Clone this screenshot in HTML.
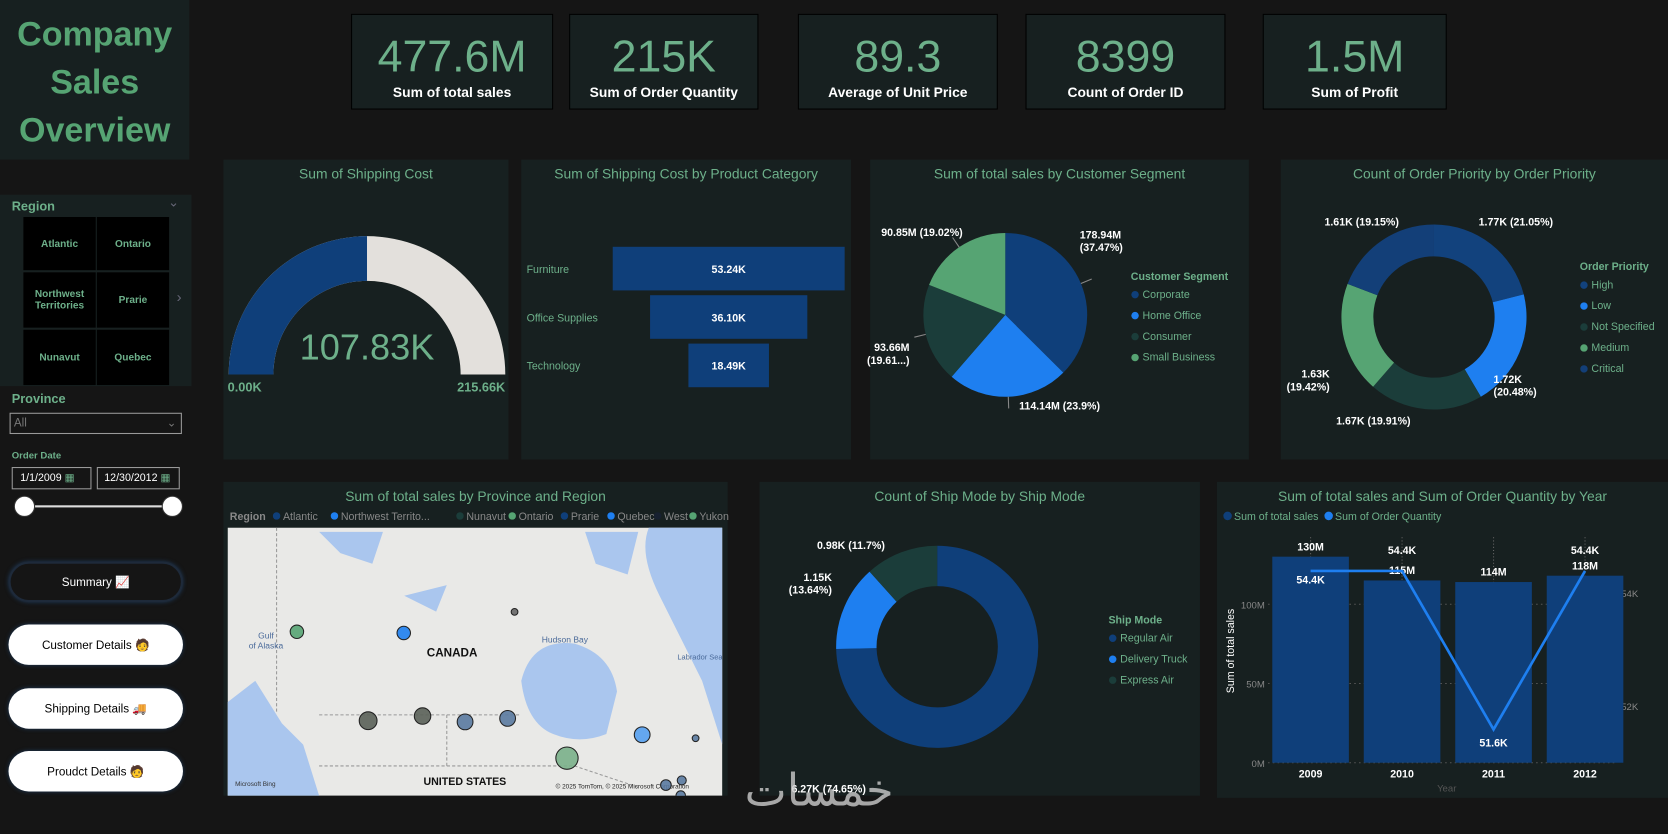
<!DOCTYPE html>
<html><head><meta charset="utf-8">
<style>
html,body{margin:0;width:1668px;height:834px;background:#151515;overflow:hidden}
#wrap{position:absolute;left:0;top:0;width:1568px;height:784px;transform:scale(1.06378);transform-origin:0 0;font-family:"Liberation Sans",sans-serif;background:#151515}
.a{position:absolute}
.panel{position:absolute;background:#172020}
.kpi{position:absolute;background:#172020;border:1px solid #000;text-align:center}
.kpi .v{color:#6db08a;font-size:42px;margin-top:16px;line-height:46px}
.kpi .l{color:#fff;font-weight:bold;font-size:13px;margin-top:3px}
.ttl{position:absolute;color:#6db08a;font-size:13px;text-align:center;width:100%;top:6px}
.tile{position:absolute;background:#000;color:#6db08a;font-weight:bold;font-size:9.5px;display:flex;align-items:center;justify-content:center;text-align:center}
.btn{position:absolute;left:8px;width:164px;height:38px;border-radius:19px;background:#fff;color:#000;font-size:11px;display:flex;align-items:center;justify-content:center;box-shadow:0 0 4px #1e3a5a}
svg text{font-family:"Liberation Sans",sans-serif}
</style></head><body>
<div id="wrap">
<div class="panel" style="left:0;top:0;width:178px;height:150px">
<div class="a" style="width:178px;top:10px;text-align:center;color:#56a473;font-weight:bold;font-size:32px;line-height:45px">Company<br>Sales<br>Overview</div></div>

<div class="kpi" style="left:330px;top:13px;width:188px;height:88px"><div class="v">477.6M</div><div class="l">Sum of total sales</div></div>
<div class="kpi" style="left:535px;top:13px;width:176px;height:88px"><div class="v">215K</div><div class="l">Sum of Order Quantity</div></div>
<div class="kpi" style="left:750px;top:13px;width:186px;height:88px"><div class="v">89.3</div><div class="l">Average of Unit Price</div></div>
<div class="kpi" style="left:964px;top:13px;width:186px;height:88px"><div class="v">8399</div><div class="l">Count of Order ID</div></div>
<div class="kpi" style="left:1187px;top:13px;width:171px;height:88px"><div class="v">1.5M</div><div class="l">Sum of Profit</div></div>

<div class="panel" style="left:0;top:183px;width:180px;height:180px">
<div class="a" style="left:11px;top:4px;color:#6db08a;font-weight:bold;font-size:12px">Region</div>
<div class="a" style="left:158px;top:0px;color:#667;font-size:12px">⌄</div>
<div class="a" style="left:166px;top:88px;color:#667;font-size:14px">›</div>
</div>
<div class="tile" style="left:22px;top:204px;width:68px;height:50px">Atlantic</div>
<div class="tile" style="left:91px;top:204px;width:68px;height:50px">Ontario</div>
<div class="tile" style="left:22px;top:256px;width:68px;height:52px">Northwest<br>Territories</div>
<div class="tile" style="left:91px;top:256px;width:68px;height:52px">Prarie</div>
<div class="tile" style="left:22px;top:310px;width:68px;height:52px">Nunavut</div>
<div class="tile" style="left:91px;top:310px;width:68px;height:52px">Quebec</div>
<div class="a" style="left:11px;top:368px;color:#6db08a;font-weight:bold;font-size:12px">Province</div>
<div class="a" style="left:9px;top:388px;width:162px;height:20px;border:1px solid #999;color:#777;font-size:11px;line-height:19px;padding-left:3px;box-sizing:border-box">All<span style="float:right;margin-right:4px">⌄</span></div>
<div class="a" style="left:11px;top:423px;color:#6db08a;font-weight:bold;font-size:9px">Order Date</div>
<div class="a" style="left:11px;top:439px;width:75px;height:21px;border:1px solid #999;box-sizing:border-box;color:#fff;font-size:10px;line-height:19px;padding-left:7px">1/1/2009 <span style="color:#6db08a">▦</span></div>
<div class="a" style="left:91px;top:439px;width:78px;height:21px;border:1px solid #999;box-sizing:border-box;color:#fff;font-size:10px;line-height:19px;padding-left:6px">12/30/2012 <span style="color:#6db08a">▦</span></div>
<div class="a" style="left:22px;top:475px;width:140px;height:2px;background:#ddd"></div>
<div class="a" style="left:13px;top:466px;width:18px;height:18px;border-radius:50%;background:#fff;border:1px solid #333"></div>
<div class="a" style="left:152px;top:466px;width:18px;height:18px;border-radius:50%;background:#fff;border:1px solid #333"></div>
<div class="btn" style="top:528px;background:#151515;color:#fff;border:2px solid #1e2a3a;box-sizing:border-box">Summary 📈</div>
<div class="btn" style="top:587px">Customer Details 🧑</div>
<div class="btn" style="top:647px">Shipping Details 🚚</div>
<div class="btn" style="top:706px">Proudct Details 🧑</div>

<div class="panel" style="left:210px;top:150px;width:268px;height:282px"><div class="ttl">Sum of Shipping Cost</div></div>
<div class="panel" style="left:490px;top:150px;width:310px;height:282px"><div class="ttl">Sum of Shipping Cost by Product Category</div></div>
<div class="panel" style="left:818px;top:150px;width:356px;height:282px"><div class="ttl">Sum of total sales by Customer Segment</div></div>
<div class="panel" style="left:1204px;top:150px;width:364px;height:282px"><div class="ttl">Count of Order Priority by Order Priority</div></div>
<div class="panel" style="left:210px;top:453px;width:474px;height:295px"><div class="ttl">Sum of total sales by Province and Region</div></div>
<div class="panel" style="left:714px;top:453px;width:414px;height:295px"><div class="ttl">Count of Ship Mode by Ship Mode</div></div>
<div class="panel" style="left:1144px;top:453px;width:424px;height:297px"><div class="ttl">Sum of total sales and Sum of Order Quantity by Year</div></div>

<svg id="s" class="a" style="left:0;top:0" width="1568" height="784"><defs><clipPath id="mapclip"><rect x="214" y="496" width="465" height="252"/></clipPath></defs></svg>
<div class="a" style="left:700px;top:718px;color:#ccc;font-size:42px;opacity:.8;font-family:'DejaVu Sans',sans-serif">خمسات</div>
</div>
<script>
// gauge
const gaugeValue=107.83, gaugeMax=215.66;
// funnel
const funnelCats=["Furniture","Office Supplies","Technology"];
const funnelVals=[53.24,36.10,18.49];
// customer segment
const segCats=["Corporate","Home Office","Consumer","Small Business"];
const segVals=[178.94,114.14,93.66,90.85];
const segLabels=["178.94M\n(37.47%)","114.14M (23.9%)","93.66M\n(19.61...)","90.85M (19.02%)"];
// order priority
const prioCats=["High","Low","Not Specified","Medium","Critical"];
const prioVals=[1.77,1.72,1.67,1.63,1.61];
const prioLabels=["1.77K (21.05%)","1.72K\n(20.48%)","1.67K (19.91%)","1.63K\n(19.42%)","1.61K (19.15%)"];
// ship mode
const shipCats=["Regular Air","Delivery Truck","Express Air"];
const shipVals=[6.27,1.15,0.98];
const shipLabels=["6.27K (74.65%)","1.15K\n(13.64%)","0.98K (11.7%)"];
// combo
const years=["2009","2010","2011","2012"];
const salesM=[130,115,114,118];
const qtyK=[54.4,54.4,51.6,54.4];
const salesTicks=[0,50,100];
const qtyTicks=[52,54];
// map
const provinces=["Yukon","NWT","Nunavut","BC","Alberta","Saskatchewan","Manitoba","Ontario","Quebec","Newfoundland","New Brunswick","Nova Scotia","PEI"];
const provLon=[-138,-127.2,-116,-130.8,-125.3,-121,-116.7,-110.7,-103.1,-97.7,-100.7,-99.1,-99.2];
const provLat=[63.1,63,64.8,55.5,55.9,55.4,55.7,52.3,54.3,54,50,50.4,49.1];
const provSales=[40,40,10,70,60,55,55,110,55,10,25,18,20];
const provRegion=["Yukon","NWT","Nunavut","West","West","Prarie","Prarie","Ontario","Quebec","Atlantic","Atlantic","Atlantic","Atlantic"];

const NAVY="#0f3f7a",BLUE="#1e7ff0",TEAL="#1b3d3a",GREEN="#56a473";
const S=document.getElementById('s');const NS="http://www.w3.org/2000/svg";
function mk(t,a,p){const e=document.createElementNS(NS,t);for(const k in a)e.setAttribute(k,a[k]);(p||S).appendChild(e);return e;}
function tx(x,y,str,o){o=o||{};const lines=String(str).split("\n");const e=mk('text',{x:x,y:y,fill:o.fill||'#fff','font-size':o.size||10,'font-weight':o.bold?'bold':'normal','text-anchor':o.anchor||'middle'},o.parent);
lines.forEach((l,i)=>{const ts=mk('tspan',{x:x,dy:i?(o.size||10)*1.2:0},e);ts.textContent=l;});return e;}
function arc(cx,cy,r,r0,a0,a1){const p=(a,rr)=>[cx+rr*Math.sin(a),cy-rr*Math.cos(a)];const lg=(a1-a0)>Math.PI?1:0;
const [x1,y1]=p(a0,r),[x2,y2]=p(a1,r);if(r0<=0){return `M${cx},${cy}L${x1},${y1}A${r},${r} 0 ${lg} 1 ${x2},${y2}Z`;}
const [x3,y3]=p(a1,r0),[x4,y4]=p(a0,r0);return `M${x1},${y1}A${r},${r} 0 ${lg} 1 ${x2},${y2}L${x3},${y3}A${r0},${r0} 0 ${lg} 0 ${x4},${y4}Z`;}

// gauge
{const cx=345,cy=352,r=130,r0=88;const f=gaugeValue/gaugeMax;
let e=mk('path',{d:arc(cx,cy,r,r0,-Math.PI/2,Math.PI/2),fill:'#e3e0dc'});
e=mk('path',{d:arc(cx,cy,r,r0,-Math.PI/2,-Math.PI/2+Math.PI*f),fill:NAVY});
tx(cx,338,gaugeValue.toFixed(2)+"K",{fill:'#6db08a',size:34});
tx(214,368,"0.00K",{fill:'#6db08a',size:12,bold:1,anchor:'start'});tx(475,368,gaugeMax.toFixed(2)+"K",{fill:'#6db08a',size:12,bold:1,anchor:'end'});}

// funnel
{const cx=685,maxW=218,top=232,h=41,gap=4.5;funnelVals.forEach((v,i)=>{const w=v/funnelVals[0]*maxW,y=top+i*(h+gap);
const e=mk('rect',{x:cx-w/2,y:y,width:w,height:h,fill:NAVY});
tx(cx,y+h/2+4,v.toFixed(2)+"K",{bold:1,size:10});tx(495,y+h/2+4,funnelCats[i],{anchor:'start',fill:'#6db08a',size:10});});}

function donut(cx,cy,r,r0,vals,cols,name){const tot=vals.reduce((a,b)=>a+b,0);let a=0;const mids=[];
vals.forEach((v,i)=>{const a1=a+v/tot*2*Math.PI;const e=mk('path',{d:arc(cx,cy,r,r0,a,a1),fill:cols[i]});mids.push((a+a1)/2);a=a1;});return mids;}
function legend(x,y,title,cats,cols,gap){tx(x,y,title,{anchor:'start',fill:'#6db08a',bold:1,size:10});cats.forEach((c,i)=>{const yy=y+17+i*gap;mk('circle',{cx:x+4,cy:yy-3,r:3.5,fill:cols[i]});tx(x+11,yy,c,{anchor:'start',fill:'#6db08a',size:10});});}

{const cols=[NAVY,BLUE,TEAL,GREEN];const m=donut(945,296,77,0,segVals,cols,'segment-pie');
const pos=[[1015,224,'start'],[958,385,'start'],[855,330,'end'],[905,222,'end']];
m.forEach((a,i)=>{const x0=945+77*Math.sin(a),y0=296-77*Math.cos(a),x1=945+88*Math.sin(a),y1=296-88*Math.cos(a);mk('line',{x1:x0,y1:y0,x2:x1,y2:y1,stroke:'#888','stroke-width':1});tx(pos[i][0],pos[i][1],segLabels[i],{anchor:pos[i][2],bold:1,size:10});});
legend(1063,263,"Customer Segment",segCats,cols,19.7);}

{const cols=["#12427d",BLUE,TEAL,GREEN,"#133f78"];donut(1348,298,87,57,prioVals,cols,'priority-donut');
const pos=[[1390,212,'start'],[1404,360,'start'],[1326,399,'end'],[1250,355,'end'],[1315,212,'end']];
prioLabels.forEach((l,i)=>tx(pos[i][0],pos[i][1],l,{anchor:pos[i][2],bold:1,size:10}));
legend(1485,254,"Order Priority",prioCats,cols,19.7);}

{const cols=[NAVY,BLUE,TEAL];donut(881,608,95,57,shipVals,cols,'shipmode-donut');
const pos=[[744,745,'start'],[782,546,'end'],[768,516,'start']];
shipLabels.forEach((l,i)=>tx(pos[i][0],pos[i][1],l,{anchor:pos[i][2],bold:1,size:10}));
legend(1042,586,"Ship Mode",shipCats,cols,19.7);}

// combo
{const base=717,pxM=1.49;const ys=v=>base-v*pxM;const yq=v=>558-(v-54)*53.2;const xs=i=>1232+i*86;
mk('circle',{cx:1154,cy:485,r:4,fill:NAVY});tx(1160,489,"Sum of total sales",{anchor:'start',fill:'#6db08a',size:10});
mk('circle',{cx:1249,cy:485,r:4,fill:BLUE});tx(1255,489,"Sum of Order Quantity",{anchor:'start',fill:'#6db08a',size:10});
salesTicks.forEach(t=>{tx(1189,ys(t)+4,t+"M",{anchor:'end',fill:'#888',size:9});mk('line',{x1:1192,x2:1520,y1:ys(t),y2:ys(t),stroke:'#555','stroke-dasharray':'1.5 3'});});
qtyTicks.forEach(t=>tx(1524,yq(t)+3,t+"K",{anchor:'start',fill:'#888',size:9}));
const yl=tx(0,0,"Sum of total sales",{fill:'#fff',size:10});yl.setAttribute('transform','translate(1160,612) rotate(-90)');
years.forEach((y,i)=>{mk('line',{x1:xs(i),x2:xs(i),y1:505,y2:base,stroke:'#666','stroke-dasharray':'1 2'});});
years.forEach((y,i)=>{const e=mk('rect',{x:xs(i)-36,y:ys(salesM[i]),width:72,height:salesM[i]*pxM,fill:NAVY});
tx(xs(i),ys(salesM[i])-6,salesM[i]+"M",{bold:1,size:10});tx(xs(i),731,y,{bold:1,size:10});});
const l=mk('polyline',{points:years.map((y,i)=>xs(i)+","+yq(qtyK[i])).join(" "),fill:'none',stroke:BLUE,'stroke-width':2.5});
years.forEach((y,i)=>{const up=(i>0&&i!=2);tx(xs(i),yq(qtyK[i])+(i==2?16:(up?-16:12)),qtyK[i]+"K",{bold:1,size:10});});
tx(1360,744,"Year",{fill:'#555',size:9});}

// map
{tx(216,489,"Region",{anchor:'start',fill:'#888',bold:1,size:10});
const lc=[["Atlantic",NAVY],["Northwest Territo...",BLUE],["Nunavut",TEAL],["Ontario",GREEN],["Prarie",NAVY],["Quebec",BLUE],["West","#172030"],["Yukon",GREEN]];
let lx=260;lc.forEach(c=>{mk('circle',{cx:lx,cy:485,r:3.5,fill:c[1]});tx(lx+6,489,c[0],{anchor:'start',fill:'#888',size:10});lx+=12+c[0].length*5.3;});
const g=mk('g',{'clip-path':'url(#mapclip)'});
mk('rect',{x:214,y:496,width:465,height:252,fill:'#e9e9e7'},g);
mk('path',{d:"M214,660 L240,640 L265,680 L285,700 L300,748 L214,748Z",fill:'#aac6ee'},g);
mk('path',{d:"M490,640 Q500,600 540,605 Q575,615 580,650 L570,690 Q545,700 520,690 Q495,680 490,640Z",fill:'#aac6ee'},g);
mk('path',{d:"M610,496 L679,496 L679,700 L660,640 L640,600 L620,560 Q600,520 610,496Z",fill:'#aac6ee'},g);
mk('path',{d:"M300,500 L360,500 L350,530 L320,520Z M380,560 L420,550 L410,575Z M550,500 L600,500 L590,540 L560,530Z",fill:'#aac6ee'},g);
mk('path',{d:"M260,496 L260,670 M300,672 L450,672 L490,672 M420,672 L420,720 M300,720 L540,720 L600,740",stroke:'#999','stroke-width':1,fill:'none','stroke-dasharray':'3 2'},g);
tx(425,617,"CANADA",{fill:'#111',bold:1,size:11,parent:g});tx(531,604,"Hudson Bay",{fill:'#4a6a9a',size:8,parent:g});tx(250,600,"Gulf\nof Alaska",{fill:'#4a6a9a',size:8,parent:g});tx(658,620,"Labrador Sea",{fill:'#4a6a9a',size:7,parent:g});
tx(437,738,"UNITED STATES",{fill:'#111',bold:1,size:10,parent:g});tx(585,741,"© 2025 TomTom, © 2025 Microsoft Corporation",{fill:'#222',size:6,parent:g});tx(240,739,"Microsoft Bing",{fill:'#333',size:6,parent:g});
const px=lon=>214+(lon+145)*9.3,py=lat=>496+(72-lat)*11;
const rc={Yukon:GREEN,NWT:BLUE,Nunavut:'#666',West:'#5a6058',Prarie:'#5a7aa0',Ontario:'#7ab08a',Quebec:'#55a0f0',Atlantic:'#5a7aa0'};
provinces.forEach((p,i)=>{const e=mk('circle',{cx:px(provLon[i]),cy:py(provLat[i]),r:Math.sqrt(provSales[i]),fill:rc[provRegion[i]],stroke:'#222','stroke-width':1,'fill-opacity':.9},g);

});}
</script>
</body></html>
